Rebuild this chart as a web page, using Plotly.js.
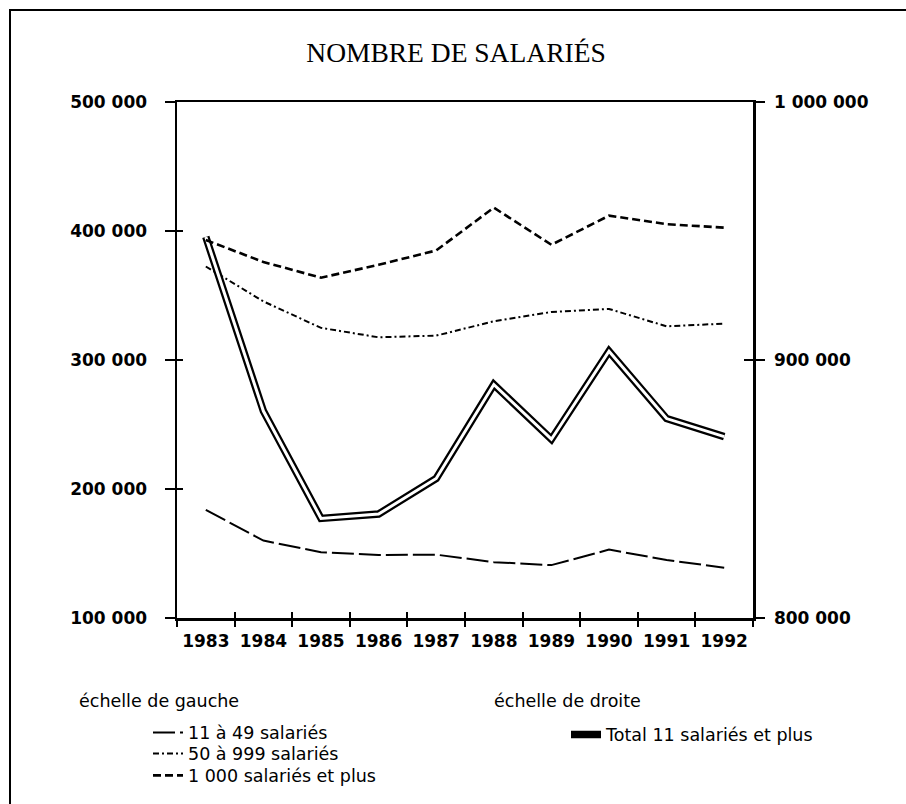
<!DOCTYPE html>
<html>
<head>
<meta charset="utf-8">
<script src="https://cdn.plot.ly/plotly-3.0.1.min.js"></script>
<style>
html,body{margin:0;padding:0;background:#fff;}
#wrap{position:relative;width:906px;height:804px;overflow:hidden;}
#chart{position:absolute;left:0;top:0;width:906px;height:804px;}
#frame{position:absolute;left:9px;top:9px;width:1000px;height:1000px;border-left:2px solid #000;border-top:2px solid #000;pointer-events:none;}
</style>
</head>
<body>
<div id="wrap"><div id="chart"></div><div id="frame"></div></div>
<script>
// ---- data ----
const years = ['1983','1984','1985','1986','1987','1988','1989','1990','1991','1992'];
const s11a49 = [183900,160000,151000,148900,149100,143300,141000,153000,145000,139000];
const s50a999 = [372500,345400,324900,317600,318900,330000,337200,339600,326100,328200];
const s1000plus = [393000,376000,363800,373800,384900,418100,389300,411900,405300,402600];
const total = [947700,880200,838600,840300,854100,890500,869300,903400,877300,870300];

const leftTickVals = [100000,200000,300000,400000,500000];
const leftTickText = ['100 000','200 000','300 000','400 000','500 000'];
const rightTickVals = [800000,900000,1000000];
const rightTickText = ['800 000','900 000','1 000 000'];

const names = ['11 à 49 salariés','50 à 999 salariés','1 000 salariés et plus','Total 11 salariés et plus'];
const titleText = 'NOMBRE DE SALARIÉS';
const leftScaleLabel = 'échelle de gauche';
const rightScaleLabel = 'échelle de droite';

// ---- layout helpers ----
const W = 906, H = 804;
const M = {l:177, r:153, t:102, b:185};
const pw = W - M.l - M.r, ph = H - M.t - M.b;
const px2x = p => (p - M.l) / pw;
const px2y = p => 1 - (p - M.t) / ph;

const sans = 'DejaVu Sans, Arial, sans-serif';
const tickFont = {family: sans, size: 17, color: '#000', weight: 'bold'};
const legFont = {family: sans, size: 17.5, color: '#000'};

const traces = [
  {x: years, y: s11a49, xaxis: 'x', yaxis: 'y', mode: 'lines', name: names[0], legend: 'legend',
   line: {color: '#000', width: 2, dash: '22px,5px'}},
  {x: years, y: s50a999, xaxis: 'x', yaxis: 'y3', mode: 'lines', name: names[1], legend: 'legend3',
   line: {color: '#000', width: 2, dash: '6px,3px,2px,3px'}},
  {x: years, y: s1000plus, xaxis: 'x2', yaxis: 'y', mode: 'lines', name: names[2], legend: 'legend4',
   line: {color: '#000', width: 2.6, dash: '8px,4px'}},
  {x: years, y: total, xaxis: 'x', yaxis: 'y2', mode: 'lines', name: names[3], legend: 'legend2',
   line: {color: '#000', width: 7.5}},
  {x: years, y: total, xaxis: 'x', yaxis: 'y4', mode: 'lines', name: names[3], showlegend: false,
   line: {color: '#fff', width: 3}}
];

function leg(leftPx, centerPx) {
  return {x: px2x(leftPx), xanchor: 'left', y: px2y(centerPx - 17.5), yanchor: 'top',
          bgcolor: 'rgba(0,0,0,0)', borderwidth: 0, font: legFont};
}

const baseY = {showgrid: false, zeroline: false, fixedrange: true};
const layout = {
  width: W, height: H,
  margin: M,
  paper_bgcolor: '#fff', plot_bgcolor: '#fff',
  font: {family: sans, color: '#000', size: 18},
  title: {text: titleText, font: {family: 'Liberation Serif, Times New Roman, serif', size: 27.5, color: '#000'},
          xref: 'container', yref: 'container', x: 456/W, xanchor: 'center', y: 1 - 52/H, yanchor: 'middle'},
  xaxis: {type: 'category', range: [-0.5, 9.5], showgrid: false, zeroline: false,
          showline: true, linecolor: '#000', linewidth: 2.5, mirror: true,
          ticks: 'outside', tickson: 'boundaries', ticklen: 6, tickwidth: 2, tickcolor: '#000',
          tickfont: tickFont, ticklabelstandoff: 6},
  xaxis2: {type: 'category', range: [-0.5, 9.5], overlaying: 'x', anchor: 'y', side: 'bottom',
           showgrid: false, zeroline: false, showline: false,
           ticks: 'inside', tickson: 'boundaries', ticklen: 6, tickwidth: 2, tickcolor: '#000',
           showticklabels: false},
  yaxis: Object.assign({}, baseY, {range: [100000, 500000], tickmode: 'array', tickvals: leftTickVals, ticktext: leftTickText,
          showline: true, linecolor: '#000', linewidth: 2.5,
          ticks: 'outside', ticklen: 10, tickwidth: 2, tickcolor: '#000', tickfont: tickFont, ticklabelstandoff: 14}),
  yaxis3: Object.assign({}, baseY, {range: [100000, 500000], overlaying: 'y', side: 'left', anchor: 'x',
          tickmode: 'array', tickvals: leftTickVals, showticklabels: false, showline: false,
          ticks: 'inside', ticklen: 6, tickwidth: 2, tickcolor: '#000'}),
  yaxis2: Object.assign({}, baseY, {range: [800000, 1000000], overlaying: 'y', side: 'right', anchor: 'x',
          tickmode: 'array', tickvals: rightTickVals, ticktext: rightTickText,
          showline: true, linecolor: '#000', linewidth: 2.5,
          ticks: 'outside', ticklen: 9, tickwidth: 2, tickcolor: '#000', tickfont: tickFont, ticklabelstandoff: 6}),
  yaxis4: Object.assign({}, baseY, {range: [800000, 1000000], overlaying: 'y', side: 'right', anchor: 'x',
          tickmode: 'array', tickvals: rightTickVals, showticklabels: false, showline: false,
          ticks: 'inside', ticklen: 9, tickwidth: 2, tickcolor: '#000'}),
  legend: leg(148, 732),
  legend3: leg(148, 753),
  legend4: leg(148, 775),
  legend2: leg(566, 734),
  annotations: [
    {text: leftScaleLabel, xref: 'paper', yref: 'paper', x: px2x(77), y: px2y(702), xanchor: 'left', yanchor: 'middle',
     showarrow: false, font: legFont},
    {text: rightScaleLabel, xref: 'paper', yref: 'paper', x: px2x(492), y: px2y(702), xanchor: 'left', yanchor: 'middle',
     showarrow: false, font: legFont}
  ],
  showlegend: true
};

Plotly.newPlot('chart', traces, layout, {displayModeBar: false, staticPlot: true});
</script>
</body>
</html>
